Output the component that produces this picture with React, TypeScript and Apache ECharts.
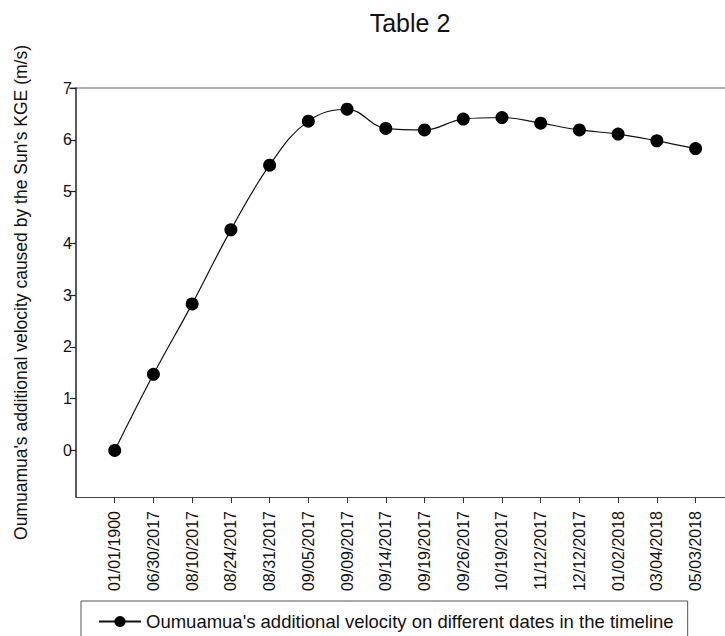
import React, { useEffect, useRef } from "react";
import * as echarts from "echarts";

const dates = [
  "01/01/1900", "06/30/2017", "08/10/2017", "08/24/2017", "08/31/2017",
  "09/05/2017", "09/09/2017", "09/14/2017", "09/19/2017", "09/26/2017",
  "10/19/2017", "11/12/2017", "12/12/2017", "01/02/2018", "03/04/2018",
  "05/03/2018",
];
const velocity = [
  0, 1.47, 2.83, 4.26, 5.51, 6.36, 6.59, 6.22, 6.19, 6.4, 6.43, 6.32, 6.19,
  6.11, 5.98, 5.83,
];
const yTicks = [0, 1, 2, 3, 4, 5, 6, 7];
const seriesName = "Oumuamua's additional velocity on different dates in the timeline";
const yName = "Oumuamua's additional velocity caused by the Sun's KGE (m/s)";
const titleText = "Table 2";

const FONT = "'Liberation Sans', Arial, sans-serif";

export default function App() {
  const ref = useRef<HTMLDivElement>(null);
  useEffect(() => {
    if (!ref.current) return;
    const chart = echarts.init(ref.current, null, { renderer: "svg" });
    const xIdx = dates.map((_, i) => i);
    chart.setOption({
      animation: false,
      backgroundColor: "#fff",
      textStyle: { fontFamily: FONT },
      title: {
        text: titleText,
        left: 405,
        top: 5,
        textAlign: "center",
        textStyle: { fontFamily: FONT, fontSize: 25, fontWeight: "normal", color: "#111" },
      },
      grid: { left: 76, top: 88, right: 0, bottom: 139, containLabel: false },
      xAxis: {
        type: "value",
        min: -1,
        max: 15.76,
        splitLine: { show: false },
        axisLine: { show: true, onZero: false, lineStyle: { color: "#444", width: 1 } },
        axisTick: {
          show: true,
          length: 6,
          customValues: xIdx,
          lineStyle: { color: "#333", width: 1 },
        },
        axisLabel: {
          customValues: xIdx,
          rotate: 90,
          margin: 14,
          fontSize: 16,
          color: "#111",
          fontFamily: FONT,
          formatter: (v: number) => dates[Math.round(v)] ?? "",
        },
      },
      yAxis: {
        type: "value",
        min: -0.9,
        max: 7,
        name: yName,
        nameLocation: "middle",
        nameGap: 46,
        nameTextStyle: { fontSize: 17.5, color: "#111", fontFamily: FONT },
        splitLine: { show: false },
        axisLine: { show: true, onZero: false, lineStyle: { color: "#222", width: 1.5 } },
        axisTick: {
          show: true,
          length: 6,
          customValues: yTicks,
          lineStyle: { color: "#222", width: 1.2 },
        },
        axisLabel: {
          customValues: yTicks,
          margin: 4,
          fontSize: 16,
          color: "#111",
          fontFamily: FONT,
        },
      },
      legend: {
        left: 81,
        top: 601,
        orient: "horizontal",
        padding: [11, 14, 14, 17],
        itemWidth: 42,
        itemHeight: 14,
        itemGap: 10,
        borderColor: "#555",
        borderWidth: 1,
        textStyle: { fontSize: 18.5, color: "#111", fontFamily: FONT },
        data: [seriesName],
      },
      graphic: [
        {
          type: "line",
          shape: { x1: 69, y1: 88, x2: 725, y2: 88 },
          style: { stroke: "#999", lineWidth: 1.5 },
          silent: true,
        },
      ],
      series: [
        {
          name: seriesName,
          type: "line",
          data: velocity.map((v, i) => [i, v]),
          smooth: 0.4,
          symbol: "circle",
          symbolSize: 13,
          itemStyle: { color: "#000" },
          lineStyle: { color: "#111", width: 1.2 },
        },
      ],
    });
    return () => chart.dispose();
  }, []);
  return (
    <div
      ref={ref}
      style={{ position: "fixed", left: 0, top: 0, width: 725, height: 636 }}
    />
  );
}
